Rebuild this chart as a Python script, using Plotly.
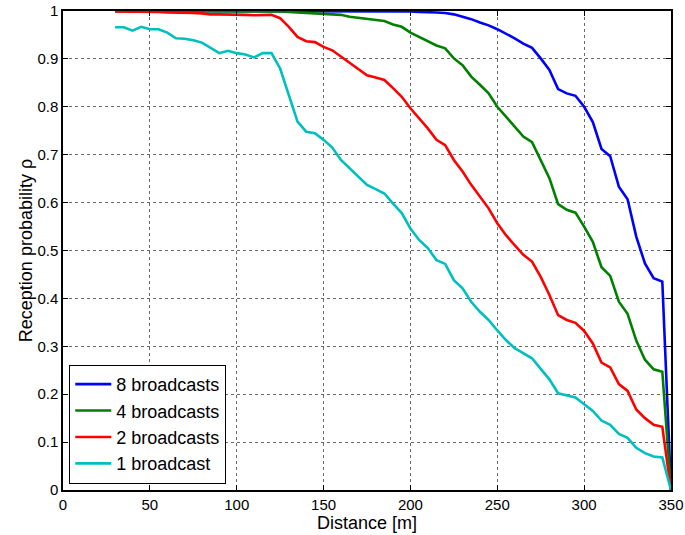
import plotly.graph_objects as go

DISTANCE = [30, 35, 40, 45, 50, 55, 60, 65, 70, 75, 80, 85, 90, 95, 100, 105, 110, 115, 120, 125,
            130, 135, 140, 145, 150, 155, 160, 165, 170, 175, 180, 185, 190, 195, 200, 205, 210, 215, 220, 225,
            230, 235, 240, 245, 250, 255, 260, 265, 270, 275, 280, 285, 290, 295, 300, 305, 310, 315, 320, 325,
            330, 335, 340, 345, 350]

B8 = [1.0] * 31 + [1.0, .999, .999, .999, .998, .998, .997, .996, .993, .988,
                   .983, .976, .970, .962, .953, .943, .932, .923, .901, .877,
                   .837, .828, .823, .800, .768, .712, .697, .633, .607, .529,
                   .473, .442, .435, 0.0]

B4 = [1.0] * 19 + [.999, .998, .997, .996, .995, .995, .994, .992, .988, .986,
                   .983, .981, .979, .972, .967, .955, .946, .937, .928, .922,
                   .901, .887, .863, .846, .828, .800, .779, .758, .738, .726,
                   .689, .651, .597, .585, .579, .550, .518, .465, .447, .393,
                   .368, .312, .272, .252, .247, 0.0]

B2 = [.999, .999, .999, .998, .998, .998, .997, .997, .996, .996,
      .995, .993, .993, .993, .993, .992, .991, .992, .992, .985,
      .967, .946, .937, .935, .925, .918, .905, .891, .879, .866,
      .861, .856, .839, .821, .797, .776, .755, .731, .720, .689,
      .665, .637, .612, .588, .557, .532, .511, .491, .477, .445,
      .407, .365, .355, .349, .332, .306, .266, .256, .221, .207,
      .168, .150, .136, .132, 0.0]

B1 = [.966, .966, .959, .967, .962, .962, .955, .943, .942, .939,
      .934, .923, .912, .917, .912, .909, .903, .912, .912, .880,
      .825, .769, .748, .745, .731, .715, .689, .672, .654, .637,
      .628, .619, .598, .578, .546, .522, .505, .480, .472, .438,
      .421, .393, .372, .355, .333, .313, .296, .285, .275, .253,
      .231, .202, .197, .193, .179, .165, .145, .136, .117, .109,
      .088, .077, .070, .068, 0.0]

SERIES = [("8 broadcasts", B8, "#0000FF"),
          ("4 broadcasts", B4, "#008000"),
          ("2 broadcasts", B2, "#FF0000"),
          ("1 broadcast", B1, "#00BFBF")]

X_TICKS = [0, 50, 100, 150, 200, 250, 300, 350]
Y_TICKS = [0, 0.1, 0.2, 0.3, 0.4, 0.5, 0.6, 0.7, 0.8, 0.9, 1]
Y_TICK_TEXT = ["0", "0.1", "0.2", "0.3", "0.4", "0.5", "0.6", "0.7", "0.8", "0.9", "1"]

FONT = "Liberation Sans, Arial, Helvetica, sans-serif"

fig = go.Figure()
for name, vals, col in SERIES:
    fig.add_trace(go.Scatter(x=DISTANCE, y=vals, mode="lines", name=name,
                             line=dict(color=col, width=2.6)))

axis_common = dict(
    showline=True, linecolor="black", linewidth=1.5, mirror="allticks",
    ticks="inside", ticklen=5, tickcolor="black", tickwidth=1,
    showgrid=True, gridcolor="#6a6a6a", griddash="dot", gridwidth=1,
    zeroline=False, automargin=False,
    tickfont=dict(family=FONT, size=15, color="black"),
)

fig.update_xaxes(range=[0, 350], tickvals=X_TICKS,
                 title=dict(text="Distance [m]", font=dict(family=FONT, size=18, color="black"), standoff=0),
                 **axis_common)
fig.update_yaxes(range=[0, 1], tickvals=Y_TICKS, ticktext=Y_TICK_TEXT,
                 title=dict(text="Reception probability ρ", font=dict(family=FONT, size=18, color="black"), standoff=0),
                 **axis_common)

fig.update_layout(
    width=685, height=535,
    margin=dict(l=63, r=14, t=11, b=45, autoexpand=False),
    paper_bgcolor="white", plot_bgcolor="white",
    font=dict(family=FONT, color="black"),
    legend=dict(x=0.01, y=0.013, xanchor="left", yanchor="bottom",
                bgcolor="white", bordercolor="black", borderwidth=1.2,
                font=dict(family=FONT, size=18, color="black"),
                tracegroupgap=0, itemwidth=36),
    showlegend=True,
)

fig.write_html("out.html")
